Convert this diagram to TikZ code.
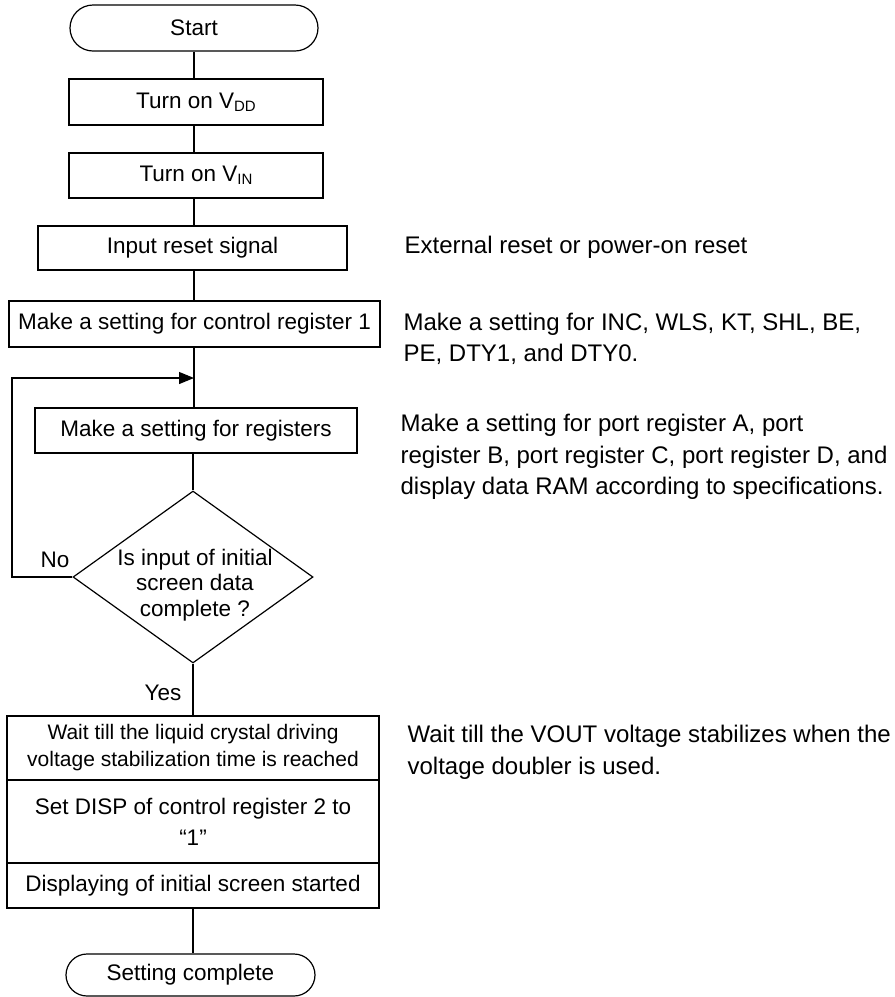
\documentclass[tikz,border=0pt]{standalone}
\usepackage{fontspec}
\setmainfont{Liberation Sans}
\usetikzlibrary{shapes.geometric,shapes.misc,arrows.meta}
\newcommand{\subtxt}[1]{\raisebox{-3pt}{\fontsize{15}{15}\selectfont #1}}
\begin{document}
\begin{tikzpicture}[x=1pt,y=-1pt,
  line width=1.2pt,
  every node/.style={font=\fontsize{22.5}{27}\selectfont},
  term/.style={draw, rounded rectangle, inner sep=0pt},
  proc/.style={draw, rectangle, inner sep=0pt, align=center},
  decision/.style={draw, diamond, inner sep=0pt},
  note/.style={anchor=north west, inner sep=0pt, align=left, font=\fontsize{24}{31.5}\selectfont},
  lbl/.style={inner sep=0pt},
  flowarrow/.style={-{Triangle[length=15pt,width=12pt]}}
]
\useasboundingbox (0,0) rectangle (895,997);
\fill[white] (0,0) rectangle (895,997);

% main flow
\node[term, minimum width=248pt, minimum height=46pt] (start) at (194,28) {Start};
\node[proc, minimum width=254pt, minimum height=46pt] (vdd) at (196,102) {Turn on V\subtxt{DD}};
\node[proc, minimum width=254pt, minimum height=45pt] (vin) at (196,175.5) {Turn on V\subtxt{IN}};
\node[proc, minimum width=309pt, minimum height=44pt] (reset) at (192.5,248) {Input reset signal};
\node[proc, minimum width=371pt, minimum height=46pt] (ctrl) at (194.5,324) {Make a setting for control register 1};
\node[proc, minimum width=322pt, minimum height=45pt] (regs) at (196,430.5) {Make a setting for registers};
\node[decision, minimum width=240pt, minimum height=172pt] (dec) at (193,577) {};
\node[align=center, inner sep=0pt, font=\fontsize{22.5}{25.5}\selectfont] (dectext) at (195,585) {Is input of initial\\screen data\\complete ?};
\node[proc, minimum width=372pt, minimum height=64pt, font=\fontsize{21}{27}\selectfont] (wait) at (193,748) {Wait till the liquid crystal driving\\voltage stabilization time is reached};
\node[proc, minimum width=372pt, minimum height=83pt, font=\fontsize{22.5}{31}\selectfont] (disp) at (193,821.5) {Set DISP of control register 2 to\\“1”};
\node[proc, minimum width=372pt, minimum height=45pt] (started) at (193,885.5) {Displaying of initial screen started};
\node[term, minimum width=249pt, minimum height=42pt] (done) at (190.5,975) {Setting complete};

% spine coordinates
\coordinate (spine) at (194,0);
\coordinate (spineb) at (193,0);
\coordinate (join) at (194,378);
\coordinate (loopL) at (12,577);

% connectors
\draw (start.south -| spine) -- (vdd.north -| spine);
\draw (vdd.south -| spine) -- (vin.north -| spine);
\draw (vin.south -| spine) -- (reset.north -| spine);
\draw (reset.south -| spine) -- (ctrl.north -| spine);
\draw (ctrl.south -| spine) -- (regs.north -| spine);
\draw (regs.south -| spineb) -- (dec.north);
\draw (dec.south) -- (wait.north -| spineb);
\draw (started.south -| spineb) -- (done.north -| spineb);
\draw[flowarrow] (dec.west) -- (loopL) |- (join);

% labels
\node[lbl] (no) at (55,560) {No};
\node[lbl] (yes) at (163,693) {Yes};

% notes
\node[note] (n1) at (404,235.5) {External reset or power-on reset};
\node[note] (n2) at (403,312.5) {Make a setting for INC, WLS, KT, SHL, BE,\\PE, DTY1, and DTY0.};
\node[note] (n3) at (400,413.5) {Make a setting for port register A, port\\register B, port register C, port register D, and\\display data RAM according to specifications.};
\node[note] (n4) at (407,724.5) {Wait till the VOUT voltage stabilizes when the\\voltage doubler is used.};
\end{tikzpicture}
\end{document}
